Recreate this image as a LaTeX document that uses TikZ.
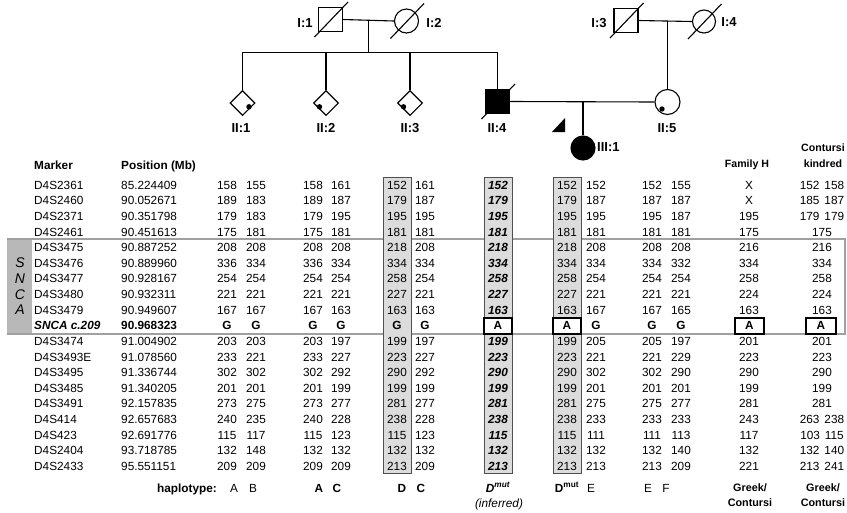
\documentclass[tikz,border=0pt]{standalone}
\usepackage{fontspec}
\setmainfont{Liberation Sans}
\usetikzlibrary{shapes.geometric,calc}
\definecolor{bandgray}{HTML}{B8B8B8}
\definecolor{linegray}{HTML}{A0A0A0}
\definecolor{boxgray}{HTML}{DCDCDC}
\definecolor{boxedge}{HTML}{505050}
\newcommand\pr[2]{#1\hspace{5pt}#2}
\begin{document}
\begin{tikzpicture}[x=1pt,y=-1pt,
  pline/.style={line width=1.1pt},
  sqn/.style={draw,line width=1.1pt,rectangle,minimum size=24pt,inner sep=0pt},
  cin/.style={draw,line width=1.1pt,circle,minimum size=24pt,inner sep=0pt},
  dian/.style={draw,line width=1.1pt,diamond,minimum size=25pt,inner sep=0pt},
  plab/.style={font=\fontsize{13}{15}\selectfont\bfseries,inner sep=0pt,text height=9.3pt,text depth=0pt},
  cell/.style={inner sep=0pt,text height=8.4pt,text depth=0pt,font=\fontsize{11.8}{13}\selectfont},
  bcell/.style={cell,font=\fontsize{11.8}{13}\selectfont\bfseries},
  scell/.style={inner sep=0pt,text height=7.6pt,text depth=0pt,font=\fontsize{10.6}{12}\selectfont\bfseries},
  icell/.style={cell,font=\fontsize{11.8}{13}\selectfont\bfseries\itshape},
  hbox/.style={draw=boxedge,line width=0.9pt,fill=boxgray,minimum width=28pt,minimum height=296pt,inner sep=0pt},
  abox/.style={draw,line width=1.8pt,fill=white,minimum height=16pt,inner sep=0pt,text height=8.4pt,text depth=0pt,font=\fontsize{11.8}{13}\selectfont\bfseries},
  slash/.style={line width=1.1pt}
]
\useasboundingbox (0,0) rectangle (847,512);
\fill[white] (0,0) rectangle (847,512);

% ---------- pedigree ----------
\node[sqn] (I1) at (330.5,19.5) {};
\node[cin] (I2) at (406.5,21) {};
\node[sqn] (I3) at (626,20.5) {};
\node[cin,minimum size=23pt] (I4) at (704,21.5) {};
\node[dian] (II1) at (242.5,103) {};
\node[dian] (II2) at (326,103) {};
\node[dian] (II3) at (410,103) {};
\node[sqn,fill=black] (II4) at (497.5,101.5) {};
\node[cin,minimum size=25pt] (II5) at (667.5,102) {};
\node[cin,fill=black] (III1) at (583,148) {};

\foreach \n in {I1,I2,I3,I4,II4}
  \draw[slash] ($(\n.center)+(-16,17.5)$) -- ($(\n.center)+(17.5,-17.5)$);

\coordinate (m1) at ($(I1.east)!0.5!(I2.west)$);
\coordinate (s1) at ($(m1)+(0,32)$);
\draw[pline] (I1.east) -- (I2.west);
\draw[pline] (m1) -- (s1);
\draw[pline] (II1.north) -- (II1.north |- s1) -- (II4.north |- s1) -- (II4.north);
\draw[pline] (II2.north) -- (II2.north |- s1);
\draw[pline] (II3.north) -- (II3.north |- s1);

\coordinate (m2) at ($(I3.east)!0.5!(I4.west)$);
\draw[pline] (I3.east) -- (I4.west);
\draw[pline] (II5.north) -- (II5.north |- m2);

\draw[pline] (II4.east) -- (II5.west);
\coordinate (m3) at (III1.north |- II5.west);
\draw[pline] (m3) -- (III1.north);

% carrier dots
\fill ($(II1.center)+(6.5,3.8)$) circle (2.7pt);
\fill ($(II2.center)+(-6.5,3.8)$) circle (2.7pt);
\fill ($(II3.center)+(-6.5,3.8)$) circle (2.7pt);
\fill ($(II5.center)+(-5.5,7)$) circle (2.7pt);

% proband arrow
\fill (552,132) -- (565,132) -- (565,118) -- cycle;

% pedigree labels
\node[plab] (lI1) at (305,23) {I:1};
\node[plab] (lI2) at (434,23) {I:2};
\node[plab] (lI3) at (599,23) {I:3};
\node[plab] (lI4) at (729,22) {I:4};
\node[plab] (lII1) at (241,127.5) {II:1};
\node[plab] (lII2) at (326,127.5) {II:2};
\node[plab] (lII3) at (410,127.5) {II:3};
\node[plab] (lII4) at (497,127.5) {II:4};
\node[plab] (lII5) at (667,127.5) {II:5};
\node[plab,anchor=west] (lIII1) at (597,147) {III:1};

% ---------- table background ----------
\fill[bandgray] (7,239) rectangle (32,334);
\draw[linegray,line width=1.4pt] (7,239) -- (845,239) -- (845,334) -- (7,334);

\node[hbox] (boxD) at (397,325) {};
\node[hbox] (boxM) at (498,325) {};
\node[hbox] (boxT) at (567,325) {};

\foreach \ql/\qy in {S/263,N/279,C/294.5,A/310}
  \node[inner sep=0pt,font=\fontsize{14}{16}\selectfont\itshape] (snca\ql) at (20,\qy) {\ql};

% header
\node[bcell,anchor=west] (hM) at (34,165) {Marker};
\node[bcell,anchor=west] (hP) at (121,165) {Position (Mb)};
\node[scell] (hF) at (747,164) {Family H};
\node[scell] (hC1) at (823,148) {Contursi};
\node[scell] (hC2) at (823,164) {kindred};

% rows
\foreach \qi/\qm/\qp/\qa/\qb/\qc/\qd/\qe/\qf/\qg/\qh/\qj/\qk/\qn/\qo/\qq in {
0/D4S2361/85.224409/158/155/158/161/152/161/152/152/152/152/155/X/\pr{152}{158},
1/D4S2460/90.052671/189/183/189/187/179/187/179/179/187/187/187/X/\pr{185}{187},
2/D4S2371/90.351798/179/183/179/195/195/195/195/195/195/195/187/195/\pr{179}{179},
3/D4S2461/90.451613/175/181/175/181/181/181/181/181/181/181/181/175/175,
4/D4S3475/90.887252/208/208/208/208/218/208/218/218/208/208/208/216/216,
5/D4S3476/90.889960/336/334/336/334/334/334/334/334/334/334/332/334/334,
6/D4S3477/90.928167/254/254/254/254/258/254/258/258/254/254/254/258/258,
7/D4S3480/90.932311/221/221/221/221/227/221/227/227/221/221/221/224/224,
8/D4S3479/90.949607/167/167/167/163/163/163/163/163/167/167/165/163/163,
10/D4S3474/91.004902/203/203/203/197/199/197/199/199/205/205/197/201/201,
11/D4S3493E/91.078560/233/221/233/227/223/227/223/223/221/221/229/223/223,
12/D4S3495/91.336744/302/302/302/292/290/292/290/290/302/302/290/290/290,
13/D4S3485/91.340205/201/201/201/199/199/199/199/199/201/201/201/199/199,
14/D4S3491/92.157835/273/275/273/277/281/277/281/281/275/275/277/281/281,
15/D4S414/92.657683/240/235/240/228/238/228/238/238/233/233/233/243/\pr{263}{238},
16/D4S423/92.691776/115/117/115/123/115/123/115/115/111/111/113/117/\pr{103}{115},
17/D4S2404/93.718785/132/148/132/132/132/132/132/132/132/132/140/132/\pr{132}{140},
18/D4S2433/95.551151/209/209/209/209/213/209/213/213/213/213/209/221/\pr{213}{241}}
{
  \pgfmathsetmacro\yy{185+15.62*\qi}
  \node[cell,anchor=west] (mk\qi) at (34,\yy) {\qm};
  \node[cell,anchor=west] (ps\qi) at (121,\yy) {\qp};
  \node[cell] (a1\qi) at (227,\yy) {\qa};
  \node[cell] (a2\qi) at (256,\yy) {\qb};
  \node[cell] (b1\qi) at (313,\yy) {\qc};
  \node[cell] (b2\qi) at (341,\yy) {\qd};
  \node[cell] (c1\qi) at (397,\yy) {\qe};
  \node[cell] (c2\qi) at (425,\yy) {\qf};
  \node[icell] (d1\qi) at (498,\yy) {\qg};
  \node[cell] (e1\qi) at (567,\yy) {\qh};
  \node[cell] (e2\qi) at (596,\yy) {\qj};
  \node[cell] (f1\qi) at (652,\yy) {\qk};
  \node[cell] (f2\qi) at (681,\yy) {\qn};
  \node[cell] (h1\qi) at (749,\yy) {\qo};
  \node[cell] (k1\qi) at (822,\yy) {\qq};
}

% SNCA c.209 row
\def\ys{325.6}
\node[icell,anchor=west] (mk9) at (34,\ys) {SNCA c.209};
\node[bcell,anchor=west] (ps9) at (121,\ys) {90.968323};
\node[bcell] (a19) at (227,\ys) {G};
\node[bcell] (a29) at (256,\ys) {G};
\node[bcell] (b19) at (313,\ys) {G};
\node[bcell] (b29) at (341,\ys) {G};
\node[bcell] (c19) at (397,\ys) {G};
\node[bcell] (c29) at (425,\ys) {G};
\node[abox,minimum width=28pt] (d19) at (498,\ys) {A};
\node[abox,minimum width=28pt] (e19) at (567,\ys) {A};
\node[bcell] (e29) at (596,\ys) {G};
\node[bcell] (f19) at (652,\ys) {G};
\node[bcell] (f29) at (681,\ys) {G};
\node[abox,minimum width=29pt] (h19) at (749.5,\ys) {A};
\node[abox,minimum width=30pt] (k19) at (821,\ys) {A};

% haplotype row
\node[bcell,anchor=east] (hap) at (217,488) {haplotype:};
\node[cell] (hA1) at (234,488) {A};
\node[cell] (hB1) at (253,488) {B};
\node[bcell] (hA2) at (319,488) {A};
\node[bcell] (hC2b) at (337,488) {C};
\node[bcell] (hD3) at (402,488) {D};
\node[bcell] (hC3) at (421,488) {C};
\node[icell] (hDm) at (498,488) {D\textsuperscript{mut}};
\node[cell,font=\fontsize{11.8}{13}\selectfont\itshape] (hinf) at (499,503) {(inferred)};
\node[bcell] (hDm2) at (567,488) {D\textsuperscript{mut}};
\node[cell] (hE1) at (591,488) {E};
\node[cell] (hE2) at (648,488) {E};
\node[cell] (hF2) at (666,488) {F};
\node[scell,font=\fontsize{10.8}{12}\selectfont\bfseries] (hG1) at (750,488) {Greek/};
\node[scell,font=\fontsize{10.8}{12}\selectfont\bfseries] (hG1b) at (750,503) {Contursi};
\node[scell,font=\fontsize{10.8}{12}\selectfont\bfseries] (hG2) at (823,488) {Greek/};
\node[scell,font=\fontsize{10.8}{12}\selectfont\bfseries] (hG2b) at (823,503) {Contursi};
\end{tikzpicture}
\end{document}
